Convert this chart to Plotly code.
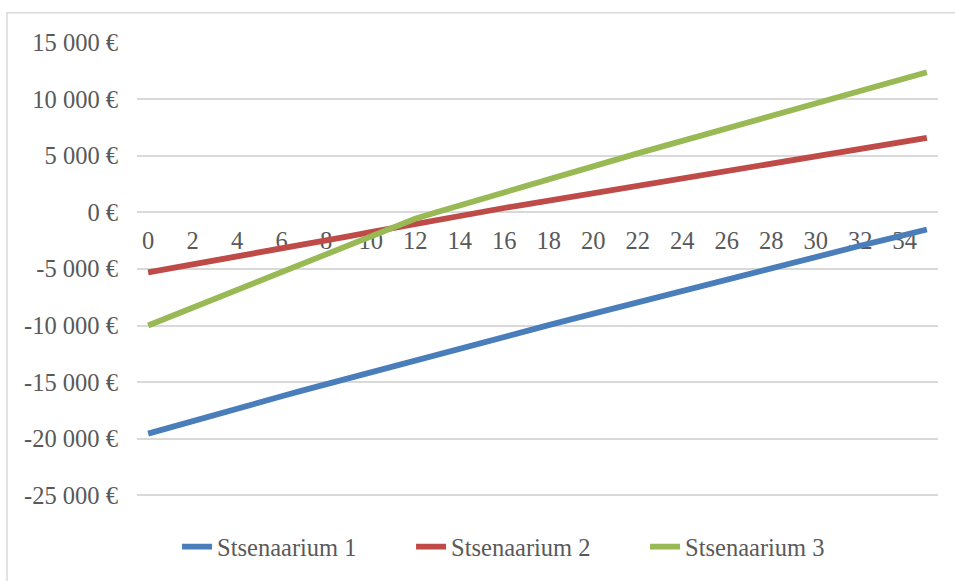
import plotly.graph_objects as go

# Years of the scenario horizon
years = list(range(36))

# Cumulative result per scenario, EUR
stsenaarium_1 = [-19550, -18980, -18420, -17870, -17330, -16790, -16250, -15710,
                 -15180, -14640, -14110, -13570, -13030, -12520, -12010, -11500,
                 -10990, -10480, -9970, -9460, -8950, -8440, -7930, -7420,
                 -6910, -6410, -5910, -5410, -4910, -4420, -3930, -3440,
                 -2960, -2480, -2000, -1520]
stsenaarium_2 = [-5300, -4960, -4620, -4270, -3920, -3570, -3210, -2850,
                 -2490, -2130, -1760, -1390, -1020, -650, -280, 50,
                 380, 700, 1030, 1350, 1680, 2000, 2330, 2660,
                 2990, 3310, 3640, 3970, 4290, 4620, 4950, 5280,
                 5600, 5930, 6250, 6580]
stsenaarium_3 = [-10000, -9210, -8420, -7630, -6840, -6050, -5260, -4470,
                 -3690, -2910, -2130, -1350, -570, 30, 620, 1200,
                 1780, 2350, 2920, 3490, 4060, 4630, 5200, 5760,
                 6320, 6880, 7440, 8000, 8560, 9120, 9670, 10210,
                 10750, 11290, 11830, 12370]

series_names = ["Stsenaarium 1", "Stsenaarium 2", "Stsenaarium 3"]
series_colors = ["#4A7EBB", "#BE4B48", "#98B954"]

# Axis ticks
x_ticks = list(range(0, 35, 2))
y_ticks = [15000, 10000, 5000, 0, -5000, -10000, -15000, -20000, -25000]
y_ticktext = [f"{v:,} €".replace(",", " ") for v in y_ticks]

FONT = "Times New Roman, Liberation Serif, Tinos, DejaVu Serif, serif"
FONT_SIZE = 24.5
TEXT_COLOR = "#595959"
GRID = "#D9D9D9"

# value axis: 15 000 at y=42 px, -25 000 at y=500 px; a little extra room
# below so the bottom gridline is kept
PX_PER_EUR = 458 / 40000
Y_MIN, Y_MAX = -25500, 15040
M_TOP = 42 - (Y_MAX - 15000) * PX_PER_EUR
M_BOTTOM = 581 - (500 + (-25000 - Y_MIN) * PX_PER_EUR)
PLOT_H = 581 - M_TOP - M_BOTTOM

fig = go.Figure()
for name, vals, col in zip(series_names,
                           [stsenaarium_1, stsenaarium_2, stsenaarium_3],
                           series_colors):
    fig.add_trace(go.Scatter(
        x=years, y=vals, name=name, mode="lines",
        line=dict(color=col, width=5.8),
    ))

# the category axis crosses the value axis at zero
zero_pos = (0 - Y_MIN) / (Y_MAX - Y_MIN)

fig.update_layout(
    width=955, height=581,
    margin=dict(l=137, r=17, t=M_TOP, b=M_BOTTOM),
    paper_bgcolor="white", plot_bgcolor="white",
    font=dict(family=FONT, size=FONT_SIZE, color=TEXT_COLOR),
    showlegend=True,
    legend=dict(
        orientation="h",
        x=0.05, xanchor="left",
        y=-(552 - (581 - M_BOTTOM)) / PLOT_H, yanchor="middle",
        entrywidth=189, entrywidthmode="pixels",
        font=dict(family=FONT, size=FONT_SIZE, color=TEXT_COLOR),
        bgcolor="rgba(0,0,0,0)",
    ),
    xaxis=dict(
        range=[-0.5, 35.5],
        tickvals=x_ticks,
        ticktext=[str(v) for v in x_ticks],
        showgrid=False, zeroline=False,
        showline=False,
        anchor="free", position=zero_pos,
        ticks="", ticklabelstandoff=11,
        layer="below traces",
    ),
    yaxis=dict(
        range=[Y_MIN, Y_MAX],
        tickvals=y_ticks, ticktext=y_ticktext,
        showgrid=True, gridcolor=GRID, gridwidth=1.5,
        zeroline=False, showline=False,
        ticks="", ticklabelstandoff=18,
    ),
    shapes=[
        # outer chart border
        dict(type="rect", xref="paper", yref="paper",
             x0=(7 - 137) / 801, x1=1.2,
             y0=-0.3, y1=(581 - M_BOTTOM - 12) / PLOT_H,
             line=dict(color=GRID, width=1.5), fillcolor="rgba(0,0,0,0)",
             layer="below"),
    ],
)

fig.write_html("out.html")
